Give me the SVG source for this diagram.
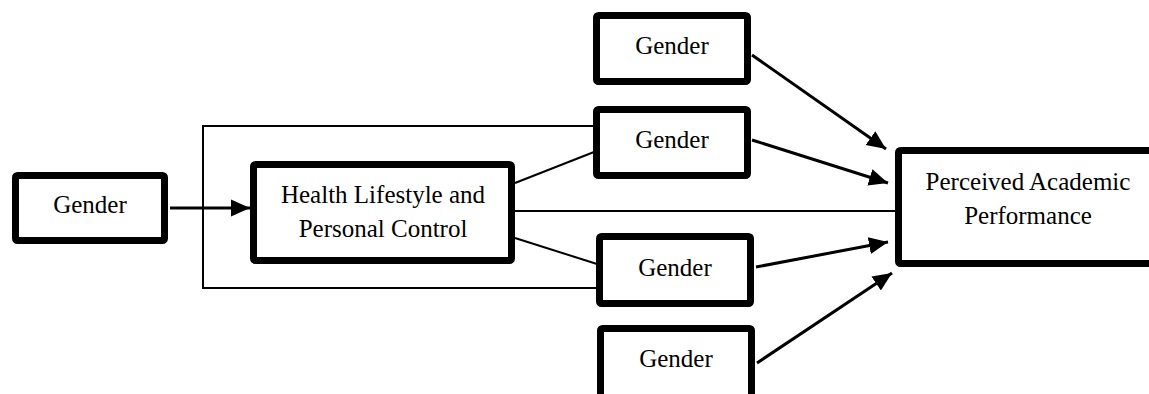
<svg xmlns="http://www.w3.org/2000/svg" width="1149" height="394" viewBox="0 0 1149 394">
<style>
.box{fill:#fff;stroke:#000;stroke-width:7;stroke-linejoin:round}
.t{font-family:"Liberation Serif","Times New Roman",serif;font-size:25px;fill:#000;text-anchor:middle}
.thin{fill:none;stroke:#000;stroke-width:2}
.arr{fill:none;stroke:#000;stroke-width:3;marker-end:url(#ah)}
</style>
<defs>
<marker id="ah" markerUnits="userSpaceOnUse" markerWidth="22" markerHeight="22" viewBox="0 0 22 22" refX="19" refY="11" orient="auto">
<path d="M0,2.5 L19,11 L0,19.5 Z" fill="#000"/>
</marker>
</defs>
<g id="connectors">
<polyline class="thin" points="593,126 203,126 203,288 597,288"/>
<line class="thin" x1="515" y1="211" x2="896" y2="211"/>
<line class="thin" x1="515" y1="183" x2="594" y2="152"/>
<line class="thin" x1="515" y1="238" x2="597" y2="264"/>
<line class="arr" x1="170" y1="208" x2="250" y2="208"/>
<line class="arr" x1="752" y1="55" x2="886" y2="149"/>
<line class="arr" x1="752" y1="140" x2="888" y2="183"/>
<line class="arr" x1="756" y1="267" x2="888" y2="242"/>
<line class="arr" x1="757" y1="363" x2="892" y2="273"/>
</g>
<g id="gender-left"><rect class="box" x="15.5" y="175.5" width="149" height="65" rx="2"/><text class="t" x="90" y="213">Gender</text></g>
<g id="health"><rect class="box" x="253.5" y="164.5" width="258" height="96" rx="2"/><text class="t" x="383" y="203">Health Lifestyle and</text><text class="t" x="383" y="237">Personal Control</text></g>
<g id="gender1"><rect class="box" x="596.5" y="15.5" width="151" height="66" rx="2"/><text class="t" x="672" y="54">Gender</text></g>
<g id="gender2"><rect class="box" x="596.5" y="109.5" width="151" height="66" rx="2"/><text class="t" x="672" y="148">Gender</text></g>
<g id="gender3"><rect class="box" x="599.5" y="236.5" width="151" height="67" rx="2"/><text class="t" x="675" y="276">Gender</text></g>
<g id="gender4"><rect class="box" x="600.5" y="328.5" width="151" height="80" rx="2"/><text class="t" x="676" y="367">Gender</text></g>
<g id="pap"><rect class="box" x="898.5" y="150.5" width="270" height="113" rx="2"/><text class="t" x="1028" y="190">Perceived Academic</text><text class="t" x="1028" y="224">Performance</text></g>
</svg>
